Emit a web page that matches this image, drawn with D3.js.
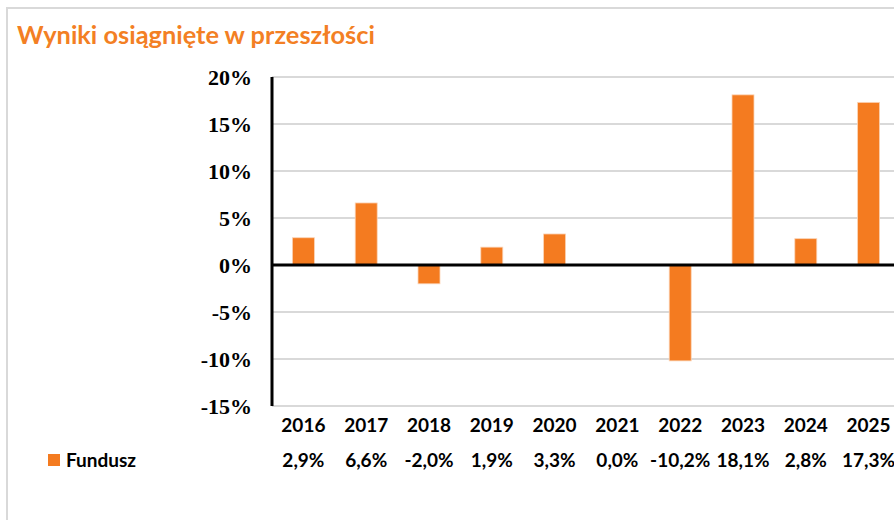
<!doctype html>
<html lang="pl">
<head>
<meta charset="utf-8">
<title>Wyniki osiągnięte w przeszłości</title>
<script src="https://d3js.org/d3.v7.min.js"></script>
<style>
  body { margin:0; background:#fff; }
  .title { font-family: Lato, "Open Sans", sans-serif; font-weight:bold; fill:#f37f24; }
  .ytick { font-family: "Liberation Serif", "Times New Roman", serif; font-weight:bold; font-size:22px; fill:#000; }
  .cat, .val, .legend { font-family: Lato, "Open Sans", sans-serif; font-weight:bold; font-size:19px; fill:#000; }
</style>
</head>
<body>
<script>
  var years  = ["2016","2017","2018","2019","2020","2021","2022","2023","2024","2025"];
  var values = [2.9, 6.6, -2.0, 1.9, 3.3, 0.0, -10.2, 18.1, 2.8, 17.3];
  var ticks  = [20, 15, 10, 5, 0, -5, -10, -15];
  var seriesName = "Fundusz";

  var W = 894, H = 520;
  var plotLeft = 272, step = 62.8;
  var plotTop = 77, plotBottom = 406;
  var barColor = "#f47b20";

  var svg = d3.select("body").append("svg")
    .attr("width", W).attr("height", H);

  // frame (cut off on the right and bottom)
  svg.append("path")
    .attr("d", "M7," + H + " V8 H" + (W + 5))
    .style("fill", "none").style("stroke", "#d9d9d9").style("stroke-width", 2);

  var title = svg.append("text").attr("class", "title")
    .attr("x", 17).attr("y", 44)
    .style("font-size", "24px")
    .text("Wyniki osiągnięte w przeszłości");
  // squeeze to the reference width
  var tw = title.node().getComputedTextLength();
  title.style("font-size", (24 * 358 / tw).toFixed(2) + "px");

  var x = d3.scaleBand()
    .domain(years)
    .range([plotLeft, plotLeft + step * years.length])
    .paddingInner(0.65).paddingOuter(0.325);

  var y = d3.scaleLinear()
    .domain([-15, 20])
    .range([plotBottom, plotTop]);

  // gridlines
  svg.append("g").selectAll("line")
    .data(ticks)
    .enter().append("line")
    .attr("x1", plotLeft).attr("x2", W)
    .attr("y1", d => y(d)).attr("y2", d => y(d))
    .style("stroke", "#d9d9d9").style("stroke-width", 2);

  // y tick labels
  svg.append("g").selectAll("text")
    .data(ticks)
    .enter().append("text")
    .attr("class", "ytick")
    .attr("x", 252).attr("y", d => y(d))
    .attr("dy", "0.35em")
    .attr("text-anchor", "end")
    .text(d => d + "%");

  // bars
  svg.append("g").selectAll("rect")
    .data(values)
    .enter().append("rect")
    .attr("x", (d, i) => x(years[i]))
    .attr("width", x.bandwidth())
    .attr("y", d => y(Math.max(0, d)))
    .attr("height", d => Math.abs(y(d) - y(0)))
    .style("fill", barColor)
    .style("stroke", "#fbd3b5").style("stroke-width", 0.8);

  // zero line and y axis line
  svg.append("line")
    .attr("x1", plotLeft).attr("x2", W)
    .attr("y1", y(0)).attr("y2", y(0))
    .style("stroke", "#000").style("stroke-width", 3);

  svg.append("line")
    .attr("x1", plotLeft).attr("x2", plotLeft)
    .attr("y1", plotTop).attr("y2", plotBottom)
    .style("stroke", "#000").style("stroke-width", 3);

  // category labels
  svg.append("g").selectAll("text")
    .data(years)
    .enter().append("text")
    .attr("class", "cat")
    .attr("x", d => x(d) + x.bandwidth() / 2)
    .attr("y", 432)
    .attr("text-anchor", "middle")
    .text(d => d);

  // data table row
  var fmt = d3.format(".1f");
  svg.append("g").selectAll("text")
    .data(values)
    .enter().append("text")
    .attr("class", "val")
    .attr("x", (d, i) => x(years[i]) + x.bandwidth() / 2)
    .attr("y", 467)
    .attr("text-anchor", "middle")
    .text(d => fmt(d).replace(".", ",").replace("−", "-") + "%");

  // legend key
  svg.append("rect")
    .attr("x", 48).attr("y", 454)
    .attr("width", 12).attr("height", 12)
    .style("fill", barColor);

  svg.append("text").attr("class", "legend")
    .attr("x", 66).attr("y", 467)
    .text(seriesName);
</script>
</body>
</html>
